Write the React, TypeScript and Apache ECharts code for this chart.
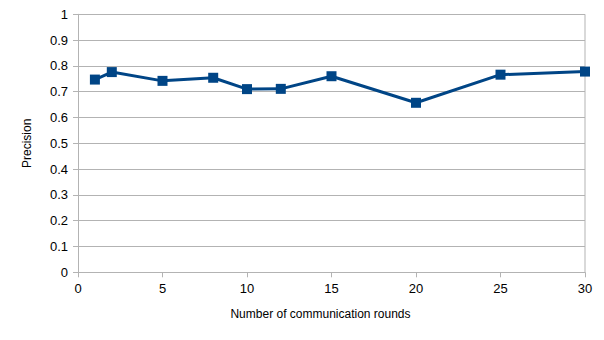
import React, { useEffect, useRef } from "react";
import * as echarts from "echarts";

const rounds = [1, 2, 5, 8, 10, 12, 15, 20, 25, 30];
const precision = [0.747, 0.776, 0.742, 0.754, 0.71, 0.711, 0.76, 0.657, 0.766, 0.778];
const xTicks = [0, 5, 10, 15, 20, 25, 30];

export default function App() {
  const ref = useRef<HTMLDivElement>(null);
  useEffect(() => {
    if (!ref.current) return;
    const chart = echarts.init(ref.current, null, { renderer: "svg" });
    const font = "'Liberation Sans', Arial, sans-serif";
    chart.setOption({
      animation: false,
      backgroundColor: "#ffffff",
      grid: { left: 78, right: 19, top: 14.3, bottom: 67.7, show: false },
      xAxis: {
        type: "value",
        min: 0,
        max: 30,
        interval: 5,
        name: "Number of communication rounds",
        nameLocation: "middle",
        nameGap: 36,
        nameTextStyle: { color: "#000", fontSize: 12, fontFamily: font, padding: [0, 22, 0, 0] },
        axisLine: { show: true, lineStyle: { color: "#b3b3b3", width: 1 } },
        axisTick: { show: true, length: 5, lineStyle: { color: "#b3b3b3" } },
        axisLabel: {
          color: "#000",
          fontSize: 13,
          fontFamily: font,
          margin: 10,
          formatter: (v: number) => (xTicks.includes(v) ? String(v) : ""),
        },
        splitLine: { show: false },
      },
      yAxis: {
        type: "value",
        min: 0,
        max: 1,
        interval: 0.1,
        name: "Precision",
        nameLocation: "middle",
        nameGap: 45,
        nameTextStyle: { color: "#000", fontSize: 12, fontFamily: font },
        axisLine: { show: true, lineStyle: { color: "#b3b3b3", width: 1 } },
        axisTick: { show: true, length: 5, lineStyle: { color: "#b3b3b3" } },
        axisLabel: {
          color: "#000",
          fontSize: 13,
          fontFamily: font,
          margin: 10,
          formatter: (v: number) => String(Math.round(v * 10) / 10),
        },
        splitLine: { show: true, lineStyle: { color: "#b3b3b3", width: 1 } },
      },
      series: [
        {
          type: "line",
          data: rounds.map((r, i) => [r, precision[i]]),
          symbol: "rect",
          symbolSize: 10,
          showAllSymbol: true,
          lineStyle: { color: "#004586", width: 3 },
          itemStyle: { color: "#004586" },
          z: 5,
        },
        {
          type: "line",
          data: [
            [30, 0],
            [30, 1],
          ],
          symbol: "none",
          lineStyle: { color: "#b3b3b3", width: 1 },
          silent: true,
          z: 1,
        },
      ],
    });
    return () => chart.dispose();
  }, []);
  return <div ref={ref} style={{ width: 604, height: 340, position: "absolute", left: 0, top: 0 }} />;
}
